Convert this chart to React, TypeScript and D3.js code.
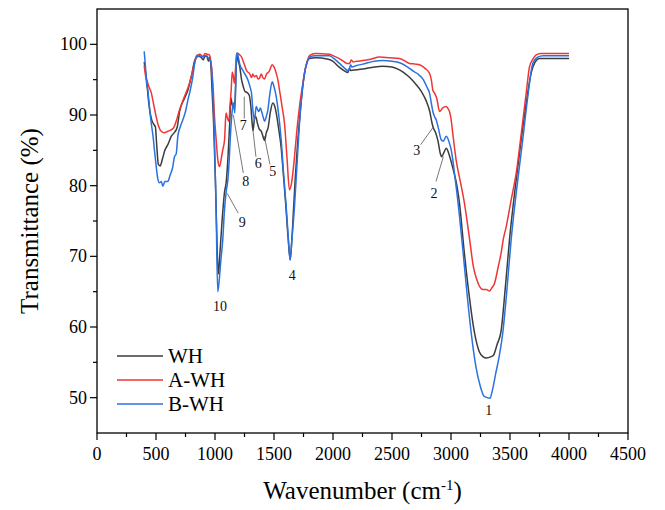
import React from "react";
import * as d3 from "d3";

type P = [number, number];

const xTicks = [0, 500, 1000, 1500, 2000, 2500, 3000, 3500, 4000, 4500];
const yTicks = [50, 60, 70, 80, 90, 100];
const seriesNames = ["WH", "A-WH", "B-WH"];
const seriesColors = ["#3c3c3c", "#f03535", "#2a72e0"];

const whData: P[] = [
  [400, 97.5], [420, 95], [440, 91.5], [460, 89.5], [480, 88.7], [495, 88.3], [505, 86], [520, 83], [535, 82.8],
  [555, 83.8], [575, 85], [600, 85.8], [630, 87], [660, 87.6], [680, 88.3], [700, 90.5], [740, 92.3], [770, 93.5],
  [800, 95.5], [830, 97.8], [860, 98.3], [880, 98.2], [900, 97.8], [915, 98.3], [930, 98.3], [945, 97.6], [955, 98.2],
  [965, 97], [975, 93.5], [990, 88], [1005, 80], [1020, 70], [1030, 67.5], [1040, 70], [1060, 75], [1080, 79],
  [1095, 80.5], [1110, 84], [1125, 89], [1135, 92.4], [1145, 91.5], [1160, 91], [1170, 92], [1180, 97], [1190, 98.3],
  [1200, 97.5], [1210, 96.8], [1225, 95], [1240, 94], [1255, 93.3], [1270, 93.2], [1290, 92.8], [1305, 91], [1315, 88.8],
  [1322, 87.8], [1335, 89.5], [1345, 89.8], [1360, 88.8], [1375, 88], [1392, 87.7], [1410, 86.8], [1420, 86.4],
  [1435, 87.5], [1450, 88.2], [1470, 90.5], [1490, 91.7], [1505, 91.3], [1520, 90.2], [1540, 88], [1560, 85.5],
  [1580, 81.5], [1600, 77.2], [1620, 72.5], [1637, 69.5], [1650, 72], [1665, 76.5], [1680, 81], [1700, 86], [1720, 90],
  [1740, 93.5], [1760, 96], [1780, 97.5], [1800, 98], [1850, 98.1], [1960, 97.9], [2000, 97.6], [2050, 96.8],
  [2100, 96.2], [2125, 96], [2140, 96.6], [2150, 96.3], [2200, 96.4], [2250, 96.5], [2350, 96.8], [2420, 96.9],
  [2500, 96.8], [2550, 96.5], [2600, 96], [2650, 95.3], [2700, 94.4], [2750, 93.3], [2790, 92], [2820, 90.5],
  [2840, 88.8], [2850, 88.2], [2870, 87.5], [2890, 86.3], [2910, 84.5], [2920, 84.1], [2940, 84.7], [2960, 85.3],
  [2980, 84.6], [3000, 83.5], [3020, 82.2], [3050, 80], [3072, 77.5], [3110, 71], [3150, 65], [3199, 59.2],
  [3240, 56.5], [3270, 55.8], [3300, 55.6], [3340, 55.8], [3360, 56], [3390, 57.5], [3425, 59.5], [3460, 65.5],
  [3496, 72.4], [3550, 80.5], [3595, 86.5], [3640, 92], [3680, 96], [3710, 97.4], [3750, 98], [4000, 98],
];

const awhData: P[] = [
  [400, 97], [412, 95.5], [425, 94.8], [440, 94], [459, 93.2], [480, 91.5], [501, 89.8], [520, 88.5], [544, 87.7],
  [572, 87.5], [600, 87.7], [628, 87.9], [650, 88.2], [671, 89.1], [699, 90.7], [720, 91.7], [741, 92.6], [784, 94.5],
  [810, 96.2], [826, 97.3], [845, 98.4], [870, 98.6], [900, 98.3], [915, 98.7], [935, 98.6], [953, 98.5], [965, 97.5],
  [973, 96.4], [985, 93.5], [995, 90], [1010, 86.5], [1025, 83.5], [1038, 82.7], [1050, 83.5], [1065, 85], [1081, 86.5],
  [1090, 89.5], [1095, 90.3], [1102, 89.8], [1117, 89.1], [1128, 91.5], [1137, 93.5], [1146, 96.1], [1155, 95.5],
  [1165, 94.5], [1175, 96.8], [1185, 98.5], [1195, 98.7], [1210, 98.5], [1222, 98.3], [1250, 97.1], [1270, 96.2],
  [1292, 95.9], [1310, 95.3], [1320, 95.8], [1335, 95.4], [1350, 95.6], [1365, 95.1], [1377, 95.2], [1392, 95.8],
  [1405, 95.3], [1420, 95.1], [1434, 95.7], [1460, 96.2], [1485, 97.1], [1500, 96.8], [1519, 95.9], [1535, 94.8],
  [1547, 93.5], [1570, 91], [1589, 88.8], [1610, 84], [1631, 79.4], [1650, 80.5], [1674, 84.1], [1695, 88],
  [1716, 91.2], [1740, 94], [1758, 95.9], [1780, 97.5], [1801, 98.4], [1850, 98.7], [1970, 98.6], [2000, 98.4],
  [2050, 98], [2097, 97.5], [2120, 97.3], [2140, 97.3], [2155, 97.8], [2170, 97.5], [2200, 97.6], [2252, 97.7],
  [2320, 97.9], [2394, 98.2], [2480, 98.1], [2564, 98], [2648, 97.3], [2700, 97.2], [2733, 97.1], [2780, 96.6],
  [2818, 95.9], [2835, 94.8], [2846, 93.5], [2860, 93.1], [2880, 92.3], [2903, 90.5], [2930, 91], [2959, 91.2],
  [2975, 90.9], [2987, 90.5], [3000, 89.5], [3015, 87.4], [3043, 83.7], [3080, 80.5], [3114, 77.5], [3157, 72.5],
  [3190, 68.5], [3213, 67], [3240, 65.8], [3270, 65.3], [3300, 65.3], [3326, 65.1], [3345, 65.5], [3369, 66.2],
  [3400, 68.5], [3425, 70.5], [3443, 72.4], [3468, 74.2], [3510, 78], [3553, 81.8], [3600, 88], [3640, 93.5],
  [3665, 96.8], [3690, 97.8], [3722, 98.5], [3760, 98.7], [4000, 98.7],
];

const bwhData: P[] = [
  [400, 99], [410, 97], [420, 94.5], [431, 93.5], [445, 91], [460, 88.8], [475, 87], [487, 85], [500, 83], [515, 81],
  [530, 80.4], [545, 80.6], [558, 79.9], [575, 80.6], [600, 80.6], [620, 81.5], [640, 82.5], [657, 84.1], [671, 84.5],
  [685, 87], [705, 88.3], [727, 89.3], [750, 90.5], [770, 92.1], [790, 93.5], [812, 95.4], [830, 97.5], [845, 98.3],
  [870, 98.4], [900, 98.2], [915, 98.4], [930, 98.4], [945, 98], [955, 97.8], [965, 97.5], [981, 93.5], [995, 87],
  [1010, 76], [1023, 65], [1035, 66.5], [1050, 69.5], [1066, 72.4], [1080, 76.5], [1095, 79.2], [1109, 80.8],
  [1120, 83.5], [1129, 86.5], [1140, 89.5], [1150, 91.2], [1157, 91.7], [1168, 90.3], [1175, 94], [1182, 98.5],
  [1188, 98.8], [1200, 98], [1208, 97.3], [1230, 96.5], [1250, 95.9], [1278, 95], [1300, 93.8], [1310, 93],
  [1321, 90.7], [1335, 89.3], [1349, 91.2], [1360, 90.8], [1371, 90.5], [1385, 91], [1395, 90.5], [1410, 89.6],
  [1420, 89.1], [1435, 89.8], [1448, 90.7], [1465, 93], [1485, 94.7], [1500, 94], [1519, 92.6], [1540, 90],
  [1561, 86.5], [1580, 82], [1603, 77.1], [1620, 73], [1637, 69.5], [1650, 72], [1674, 77.1], [1695, 83], [1716, 88.8],
  [1740, 93.5], [1758, 95.9], [1780, 97.4], [1801, 98.2], [1850, 98.4], [1970, 98.4], [2000, 98.1], [2055, 97.3],
  [2100, 96.6], [2125, 96.3], [2140, 96.6], [2150, 97.1], [2160, 96.8], [2200, 97], [2252, 97.2], [2350, 97.6],
  [2422, 97.7], [2500, 97.6], [2564, 97.4], [2648, 96.6], [2680, 96.2], [2720, 95.8], [2765, 95], [2800, 93.8],
  [2818, 93.1], [2835, 91.5], [2846, 90.5], [2860, 89.8], [2875, 89.3], [2895, 88], [2917, 86.5], [2935, 86.3],
  [2959, 87], [2975, 86.6], [2987, 86], [3000, 85.2], [3015, 83.7], [3035, 81], [3057, 78], [3100, 71], [3140, 64],
  [3171, 59.2], [3210, 54.5], [3250, 51.5], [3280, 50.2], [3310, 50], [3330, 49.9], [3350, 51], [3380, 53.5],
  [3410, 56], [3439, 59.2], [3470, 64.5], [3510, 72.4], [3560, 80], [3608, 86.5], [3650, 92.5], [3693, 97.3],
  [3735, 98.2], [3780, 98.4], [4000, 98.4],
];

// peak annotations: label, label baseline (wavenumber, T), leader from / to (wavenumber, T) or null
const peakLabels = ["1", "2", "3", "4", "5", "6", "7", "8", "9", "10"];
const peakLabelPos: P[] = [
  [3320, 47.6], [2856, 78.3], [2709, 84.4], [1655, 66.7], [1489, 81.4], [1367, 82.5], [1240, 87.9], [1260, 79.9], [1231, 74.2], [1042, 62.3],
];
const peakLeaderFrom: (P | null)[] = [
  null, [2873, 80.6], [2743, 85.8], null, [1466, 83.0], [1347, 84.1], [1248, 89.5], [1240, 81.8], [1197, 76.1], null,
];
const peakLeaderTo: (P | null)[] = [
  null, [2935, 84.1], [2850, 88.3], null, [1418, 87.0], [1320, 88.1], [1248, 92.6], [1155, 90.0], [1104, 78.9], null,
];

const W = 665;
const H = 510;
const M = { left: 97, right: 628, top: 9, bottom: 433 };
const FONT = "'Liberation Serif', 'Times New Roman', serif";

export default function App() {
  const x = d3.scaleLinear().domain([0, 4500]).range([M.left, M.right]);
  const y = d3.scaleLinear().domain([45, 105]).range([M.bottom, M.top]);
  const line = d3
    .line<P>()
    .x((d) => x(d[0]))
    .y((d) => y(d[1]))
    .curve(d3.curveMonotoneX);
  const allData = [whData, awhData, bwhData];
  const xMinor = d3.range(250, 4500, 500);
  const yMinor = d3.range(55, 105, 10);

  return (
    <svg width={W} height={H} style={{ position: "absolute", left: 0, top: 0, background: "#fff" }} fontFamily={FONT}>
      <rect x={0} y={0} width={W} height={H} fill="#fff" />
      {allData.map((d, i) => (
        <path key={i} d={line(d) || ""} fill="none" stroke={seriesColors[i]} strokeWidth={1.5} strokeLinejoin="round" />
      ))}
      {/* frame */}
      <rect x={M.left} y={M.top} width={M.right - M.left} height={M.bottom - M.top} fill="none" stroke="#000" strokeWidth={1.3} />
      {/* x ticks */}
      {xTicks.map((t) => (
        <g key={"xt" + t}>
          <line x1={x(t)} x2={x(t)} y1={M.bottom} y2={M.bottom + 7} stroke="#000" strokeWidth={1.2} />
          <text x={x(t)} y={M.bottom + 27} fontSize={18} textAnchor="middle" fill="#000">
            {t}
          </text>
        </g>
      ))}
      {xMinor.map((t) => (
        <line key={"xm" + t} x1={x(t)} x2={x(t)} y1={M.bottom} y2={M.bottom + 4} stroke="#000" strokeWidth={1.2} />
      ))}
      {yTicks.map((t) => (
        <g key={"yt" + t}>
          <line x1={M.left - 7} x2={M.left} y1={y(t)} y2={y(t)} stroke="#000" strokeWidth={1.2} />
          <text x={M.left - 10} y={y(t) + 6} fontSize={18} textAnchor="end" fill="#000">
            {t}
          </text>
        </g>
      ))}
      {yMinor.map((t) => (
        <line key={"ym" + t} x1={M.left - 4} x2={M.left} y1={y(t)} y2={y(t)} stroke="#000" strokeWidth={1.2} />
      ))}
      {/* axis titles */}
      <text x={(M.left + M.right) / 2} y={499} fontSize={25} textAnchor="middle" fill="#000">
        Wavenumber (cm<tspan dy={-9} fontSize={15}>-1</tspan>
        <tspan dy={9}>)</tspan>
      </text>
      <text
        transform={`translate(38,${(M.top + M.bottom) / 2}) rotate(-90)`}
        fontSize={25}
        textAnchor="middle"
        fill="#000"
      >
        Transmittance (%)
      </text>
      {/* annotations */}
      {peakLabels.map((lab, i) => {
        const from = peakLeaderFrom[i];
        const to = peakLeaderTo[i];
        return (
          <g key={"pk" + lab}>
            {from && to && (
              <line x1={x(from[0])} y1={y(from[1])} x2={x(to[0])} y2={y(to[1])} stroke="#555" strokeWidth={0.8} />
            )}
            <text x={x(peakLabelPos[i][0])} y={y(peakLabelPos[i][1])} fontSize={14} textAnchor="middle" fill="#111">
              {lab}
            </text>
          </g>
        );
      })}
      {/* legend */}
      {seriesNames.map((n, i) => (
        <g key={"lg" + n}>
          <line x1={117} x2={163} y1={356 + i * 24} y2={356 + i * 24} stroke={seriesColors[i]} strokeWidth={1.6} />
          <text x={168} y={356 + i * 24 + 7} fontSize={21} fill="#000">
            {n}
          </text>
        </g>
      ))}
    </svg>
  );
}
